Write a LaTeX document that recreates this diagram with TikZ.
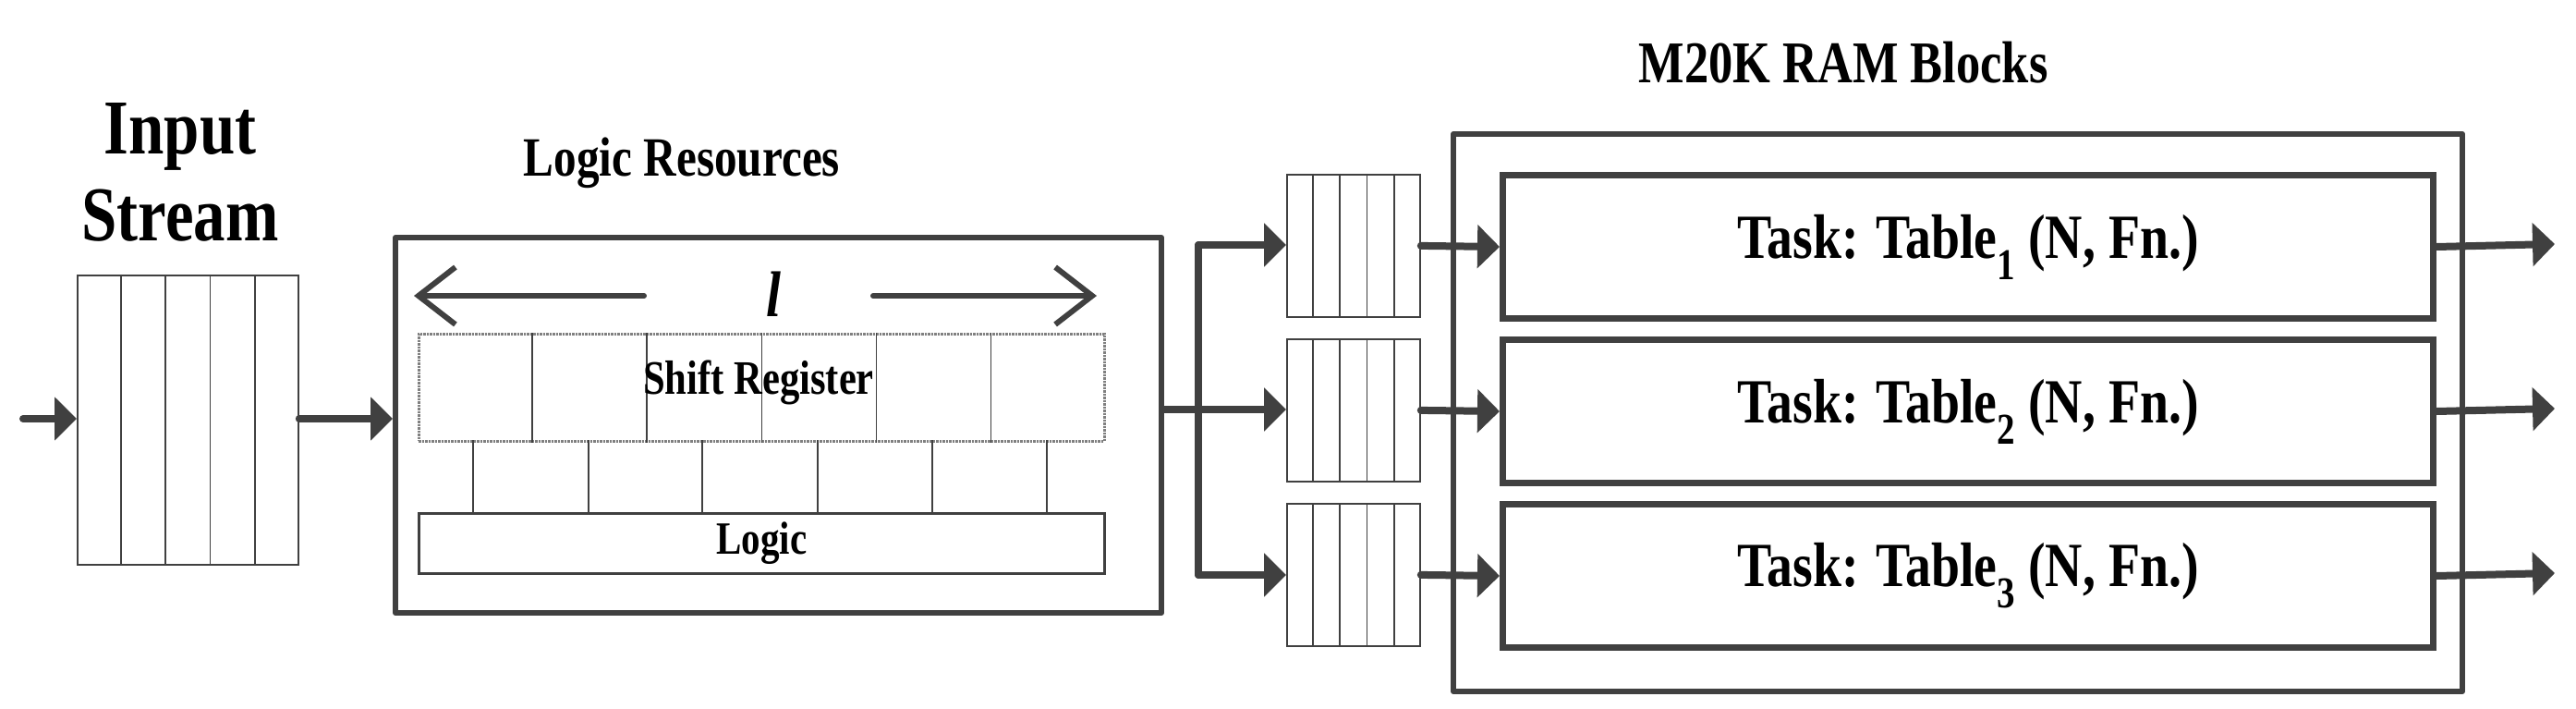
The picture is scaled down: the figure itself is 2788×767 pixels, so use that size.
\documentclass[tikz,border=0pt]{standalone}
\usepackage{fontspec}
\setmainfont{Liberation Serif}[FakeStretch=0.82]
\usetikzlibrary{arrows.meta,calc}
\definecolor{dk}{HTML}{404040}
\tikzset{
  fifo/.style={draw=dk,line width=1.8pt,fill=white},
  bigbox/.style={draw=dk,line width=6pt,line join=round},
  taskbox/.style={draw=dk,line width=7pt,minimum width=1007pt,minimum height=155pt,font=\fontsize{68}{70}\selectfont\bfseries,inner sep=0pt},
  flow/.style={draw=dk,line width=8pt,line cap=round,-{Triangle[length=24pt,width=46pt]}},
  lbl/.style={font=\fontsize{64}{70}\selectfont\bfseries,inner sep=0pt},
}
\begin{document}
\begin{tikzpicture}[x=1pt,y=-1pt]
\useasboundingbox (0,0) rectangle (2788,767);
% Input stream
\node[lbl,font=\fontsize{84}{100}\selectfont\bfseries,align=center] (inlbl) at (195,186) {Input\\[-6pt]Stream};
\node[fifo,minimum width=239pt,minimum height=313pt,inner sep=0pt,anchor=north west] (in) at (83,297) {};
\foreach \i in {1,...,4} \draw[dk,line width=1.8pt] ($(in.north west)!\i/5!(in.north east)$) -- ($(in.south west)!\i/5!(in.south east)$);
\coordinate (src) at (25,453);
\draw[flow] (src) -- (in.west |- src);
% Logic resources
\node[lbl,font=\fontsize{60}{70}\selectfont\bfseries] (lrlbl) at (738,176) {Logic Resources};
\node[bigbox,minimum width=829pt,minimum height=406pt,anchor=north west,inner sep=0pt] (lr) at (425,254) {};
\draw[flow] (in.east |- src) -- (lr.west |- src);
\node[font=\fontsize{70}{70}\selectfont\bfseries\itshape,inner sep=0pt] (ell) at (837,318) {l};
\coordinate (la) at (697,320); \coordinate (lb) at (448,320);
\coordinate (ra) at (945,320); \coordinate (rb) at (1187,320);
\draw[dk,line width=6pt,line cap=round,-{Straight Barb[length=40pt,width=62pt,line width=6pt]}] (la) -- (lb);
\draw[dk,line width=6pt,line cap=round,-{Straight Barb[length=40pt,width=62pt,line width=6pt]}] (ra) -- (rb);
\node[draw=gray,densely dotted,line width=2.5pt,minimum width=742pt,minimum height=116pt,anchor=north west,inner sep=0pt] (sr) at (452,360) {};
\foreach \i in {1,...,5} \draw[dk,line width=1.5pt] ($(sr.north west)!\i/6!(sr.north east)$) -- ($(sr.south west)!\i/6!(sr.south east)$);
\node[font=\fontsize{52}{60}\selectfont\bfseries,inner sep=0pt] (srlbl) at (821,414) {Shift Register};
\node[draw=dk,line width=2.5pt,minimum width=742pt,minimum height=65pt,anchor=north west,inner sep=0pt] (lg) at (452,554) {};
\node[font=\fontsize{50}{60}\selectfont\bfseries,inner sep=0pt] (lglbl) at (lg.center) {Logic};
\foreach \x in {512,637,760,885,1009,1133} \draw[dk,line width=2pt] (\x,476) -- (\x,554);
% bus
\coordinate (bt) at (1297,265); \coordinate (bm) at (1297,443); \coordinate (bb) at (1297,622);
\draw[dk,line width=8pt,line cap=round] (lr.east |- bm) -- (bm);
\draw[dk,line width=8pt,line cap=round] (bt) -- (bb);
% M20K
\node[lbl,font=\fontsize{64}{70}\selectfont\bfseries] (mlbl) at (1995,68) {M20K RAM Blocks};
\node[bigbox,minimum width=1092pt,minimum height=603pt,anchor=north west,inner sep=0pt] (m) at (1570,142) {};
\foreach \k/\y/\ty in {1/188/186,2/366/364,3/544/542} {
  \node[fifo,minimum width=144pt,minimum height=154pt,inner sep=0pt,anchor=north west] (f\k) at (1392,\y) {};
  \foreach \i in {1,...,4} \draw[dk,line width=1.8pt] ($(f\k.north west)!\i/5!(f\k.north east)$) -- ($(f\k.south west)!\i/5!(f\k.south east)$);
  \node[taskbox,anchor=north west] (t\k) at (1623,\ty) {Task: Table\textsubscript{\k} (N, Fn.)};
  \coordinate (o\k) at (2765,{\ty+78});
}
\draw[flow] (bt) -- (f1.west |- bt);
\draw[flow] (bm) -- (f2.west |- bm);
\draw[flow] (bb) -- (f3.west |- bb);
\foreach \k in {1,2,3} {
  \draw[flow] (f\k.east) -- (t\k.west);
  \draw[flow] (t\k.east) -- (o\k);
}
\end{tikzpicture}
\end{document}
